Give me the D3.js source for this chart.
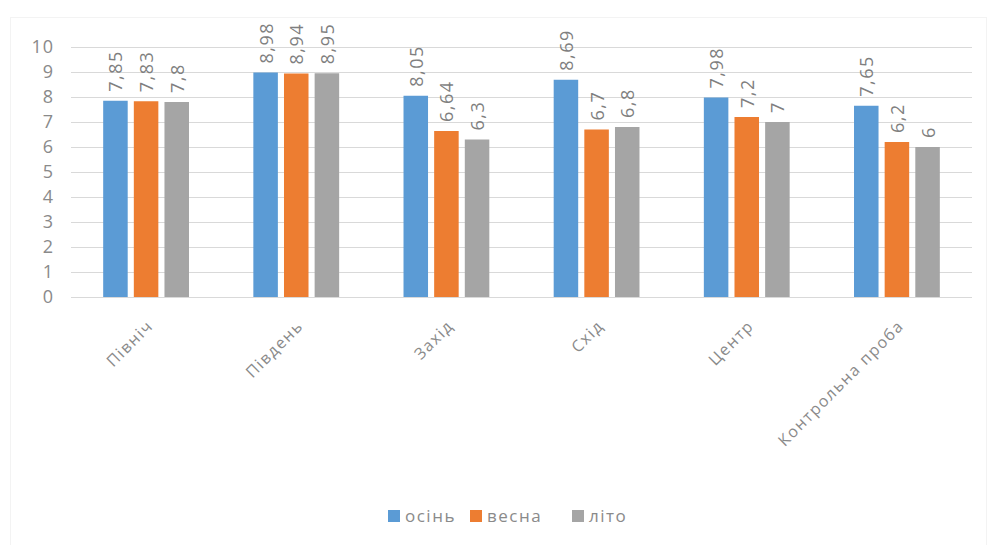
<!doctype html>
<html lang="uk">
<head>
    <meta charset="utf-8">
    <title></title>
    <script src="https://d3js.org/d3.v7.min.js"></script>
    <style type="text/css">
        body { margin: 0; background: #fff; }
        text { font-family: "Open Sans", "DejaVu Sans", sans-serif; }
    </style>
</head>

<body>
</body>

<script type="text/javascript">

    var width  = 989;
    var height = 545;

    var categories = ["Північ", "Південь", "Захід", "Схід", "Центр", "Контрольна проба"];
    var seriesNames = ["осінь", "весна", "літо"];
    var osin  = [7.85, 8.98, 8.05, 8.69, 7.98, 7.65];
    var vesna = [7.83, 8.94, 6.64, 6.7, 7.2, 6.2];
    var lito  = [7.8, 8.95, 6.3, 6.8, 7, 6];
    var yTicks = [0,1,2,3,4,5,6,7,8,9,10];
    var colors = ["#5b9bd5", "#ed7d31", "#a5a5a5"];

    var series = [osin, vesna, lito];

    var plotLeft = 71, plotRight = 972, plotTop = 47, plotBottom = 297;

    var svg = d3.select("body")
        .append("svg")
        .attr("width", width)
        .attr("height", height);

    // faint chart border
    svg.append("rect")
        .attr("x", 10.5)
        .attr("y", 17.5)
        .attr("width", 976)
        .attr("height", 540)
        .style("fill", "none")
        .style("stroke", "#f3f3f3");

    var x = d3.scaleBand()
        .domain(categories)
        .range([plotLeft, plotRight]);

    var xInner = d3.scaleBand()
        .domain(seriesNames)
        .range([0, x.bandwidth()])
        .paddingInner(0.2)
        .paddingOuter(1.05);

    var y = d3.scaleLinear()
        .domain([0, 10])
        .range([plotBottom, plotTop]);

    // gridlines
    svg.selectAll(".grid")
        .data(yTicks)
        .enter()
        .append("line")
        .attr("x1", plotLeft)
        .attr("x2", plotRight)
        .attr("y1", d => y(d) + 0.5)
        .attr("y2", d => y(d) + 0.5)
        .style("stroke", "#d9d9d9")
        .style("stroke-width", 1);

    // y axis labels
    var yAxis = d3.axisLeft(y).tickValues(yTicks).tickSize(0).tickPadding(0);
    var gy = svg.append("g")
        .attr("transform", "translate(" + (plotLeft - 17) + ",0)")
        .call(yAxis);
    gy.select(".domain").remove();
    gy.selectAll("text")
        .style("font-family", "'Open Sans', sans-serif")
        .style("font-size", "18px")
        .style("letter-spacing", "1px")
        .style("fill", "#8a8a8a");

    var fmt = d => String(d).replace(".", ",");

    series.forEach(function(vals, si) {
        var g = svg.append("g");
        g.selectAll("rect")
            .data(vals)
            .enter()
            .append("rect")
            .attr("x", (d,i) => x(categories[i]) + xInner(seriesNames[si]))
            .attr("y", d => y(d))
            .attr("width", xInner.bandwidth())
            .attr("height", d => plotBottom - y(d))
            .style("fill", colors[si]);

        g.selectAll("text")
            .data(vals)
            .enter()
            .append("text")
            .attr("transform", (d,i) => {
                var cx = x(categories[i]) + xInner(seriesNames[si]) + xInner.bandwidth() / 2 + 7;
                return "translate(" + cx + "," + (y(d) - 9) + ") rotate(-90)";
            })
            .style("font-size", "18px")
            .style("letter-spacing", "1.5px")
            .style("fill", "#7f7f7f")
            .text(d => fmt(d));
    });

    // x axis labels
    svg.selectAll(".xlab")
        .data(categories)
        .enter()
        .append("text")
        .attr("text-anchor", "end")
        .attr("transform", d => "translate(" + (x(d) + x.bandwidth() / 2 + 8) + "," + (plotBottom + 30) + ") rotate(-45)")
        .style("font-size", "16px")
        .style("letter-spacing", "1.5px")
        .style("fill", "#8a8a8a")
        .text(d => d);

    // legend
    var legendX = [388, 470, 572];
    var legend = svg.selectAll(".leg")
        .data(seriesNames)
        .enter()
        .append("g")
        .attr("transform", (d,i) => "translate(" + legendX[i] + ",510)");
    legend.append("rect")
        .attr("width", 12)
        .attr("height", 12)
        .style("fill", (d,i) => colors[i]);
    legend.append("text")
        .attr("x", 17)
        .attr("y", 12)
        .style("font-size", "17px")
        .style("letter-spacing", "1.5px")
        .style("fill", "#8a8a8a")
        .text(d => d);

</script>

</html>
